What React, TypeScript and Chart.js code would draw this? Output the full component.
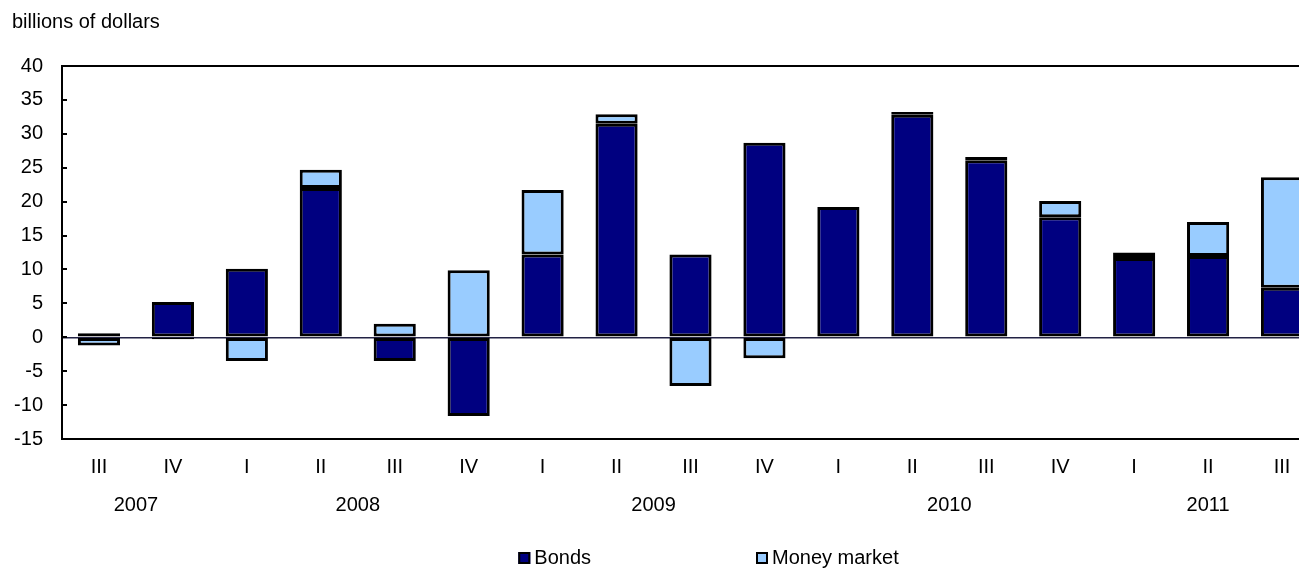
import React, { useEffect, useRef } from "react";
import { Chart, registerables } from "chart.js";

Chart.register(...registerables);

const quarters = ["III", "IV", "I", "II", "III", "IV", "I", "II", "III", "IV", "I", "II", "III", "IV", "I", "II", "III"];
const years = ["2007", "2008", "2009", "2010", "2011"];
const quartersPerYear = [2, 4, 4, 4, 3];
const bonds = [0.6, 5.2, 10.1, 22.0, -3.5, -11.6, 12.2, 31.5, 12.2, 28.7, 19.2, 32.8, 26.1, 17.7, 11.7, 12.0, 7.3];
const moneyMarket = [-1.2, -0.3, -3.5, 2.7, 2.0, 9.9, 9.5, 1.4, -7.2, -3.1, null, 0.4, 0.5, 2.4, 0.8, 5.0, 16.3];
const yTitle = "billions of dollars";

const FONT = "'Liberation Sans', Arial, sans-serif";
const FS = 20;

const decorPlugin = {
  id: "decor",
  afterDraw(chart: any) {
    const ctx = chart.ctx;
    const area = chart.chartArea;
    const xs = chart.scales.x;
    const ys = chart.scales.y;
    ctx.save();
    // inward y tick marks
    ctx.strokeStyle = "#000";
    ctx.lineWidth = 2;
    ys.ticks.forEach((t: any) => {
      const y = Math.round(ys.getPixelForValue(t.value));
      ctx.beginPath();
      ctx.moveTo(area.left, y);
      ctx.lineTo(area.left + 5, y);
      ctx.stroke();
    });
    // title
    ctx.fillStyle = "#000";
    ctx.font = `${FS}px ${FONT}`;
    ctx.textAlign = "left";
    ctx.textBaseline = "middle";
    ctx.fillText(yTitle, 4, 14);
    // year labels
    ctx.textAlign = "center";
    let idx = 0;
    years.forEach((yr, i) => {
      const n = quartersPerYear[i];
      const x0 = xs.getPixelForValue(idx);
      const x1 = xs.getPixelForValue(idx + n - 1);
      ctx.fillText(yr, (x0 + x1) / 2, 497);
      idx += n;
    });
    // legend
    const items = chart.data.datasets.map((d: any) => ({ label: d.label, color: d.backgroundColor }));
    const box = 12;
    const gapText = 4;
    const gapItems = 165;
    const widths = items.map((it: any) => box + gapText + ctx.measureText(it.label).width);
    const total = widths.reduce((a: number, b: number) => a + b, 0) + gapItems * (items.length - 1);
    let x = (area.left + area.right) / 2 + 18 - total / 2;
    const ly = 550;
    ctx.textAlign = "left";
    items.forEach((it: any, i: number) => {
      ctx.fillStyle = it.color;
      ctx.fillRect(x, ly - box / 2, box, box);
      ctx.strokeStyle = "#000";
      ctx.lineWidth = 2;
      ctx.strokeRect(x + 1, ly - box / 2 + 1, box - 2, box - 2);
      ctx.fillStyle = "#000";
      ctx.fillText(it.label, x + box + gapText, ly);
      x += widths[i] + gapItems;
    });
    ctx.restore();
  },
};

export default function App() {
  const ref = useRef<HTMLCanvasElement | null>(null);
  useEffect(() => {
    if (!ref.current) return;
    const chart = new Chart(ref.current, {
      type: "bar",
      data: {
        labels: quarters,
        datasets: [
          {
            label: "Bonds",
            data: bonds,
            backgroundColor: "#000080",
            borderColor: "#000",
            borderWidth: 3,
            borderSkipped: false,
          },
          {
            label: "Money market",
            data: moneyMarket as any,
            backgroundColor: "#99CCFF",
            borderColor: "#000",
            borderWidth: 3,
            borderSkipped: false,
          },
        ],
      },
      options: {
        responsive: false,
        animation: false,
        layout: { padding: { left: 0, right: 19, top: 58, bottom: 0 } },
        plugins: { legend: { display: false }, title: { display: false }, tooltip: { enabled: false } },
        datasets: { bar: { categoryPercentage: 1, barPercentage: 0.57 } },
        scales: {
          x: {
            stacked: true,
            grid: { display: false, drawTicks: false },
            border: { display: true, color: "#000", width: 2 },
            ticks: { color: "#000", font: { family: FONT, size: FS }, padding: 16, maxRotation: 0, autoSkip: false },
            afterFit: (s: any) => {
              s.height = 130;
            },
          },
          y: {
            stacked: true,
            min: -15,
            max: 40,
            grid: {
              drawTicks: false,
              color: (c: any) => (c.tick && c.tick.value === 0 ? "#222244" : c.tick && c.tick.value === 40 ? "#000" : "rgba(0,0,0,0)"),
              lineWidth: (c: any) => (c.tick && c.tick.value === 40 ? 2 : 1.5),
            },
            border: { display: true, color: "#000", width: 2 },
            ticks: { stepSize: 5, color: "#000", font: { family: FONT, size: FS }, padding: 19 },
            afterFit: (s: any) => {
              s.width = 54;
            },
          },
        },
      },
      plugins: [decorPlugin],
    });
    return () => chart.destroy();
  }, []);
  return (
    <div style={{ width: 1299, height: 561, overflow: "hidden" }}>
      <canvas ref={ref} width={1330} height={561} style={{ display: "block" }} />
    </div>
  );
}
